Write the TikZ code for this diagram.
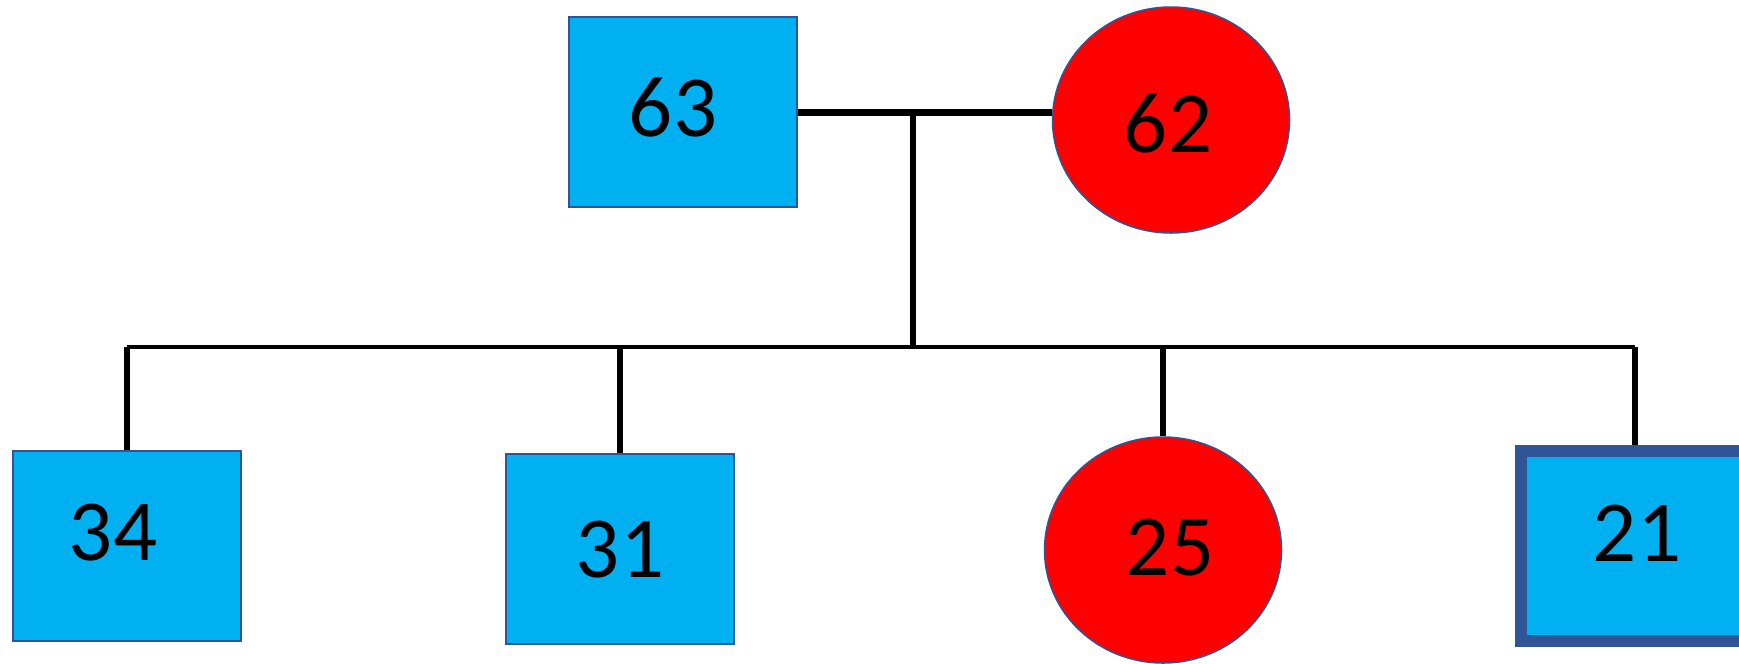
\documentclass[tikz,border=0pt]{standalone}
\usepackage{fontspec}
\setmainfont{Carlito}
\usetikzlibrary{shapes.geometric}
\definecolor{boyblue}{HTML}{00B0F0}
\definecolor{rimblue}{HTML}{2F5597}

\begin{document}
\begin{tikzpicture}[x=0.2mm, y=-0.2mm,
  male/.style={draw=rimblue, line width=0.3mm, fill=boyblue, rectangle, minimum width=45.6mm, minimum height=38mm, inner sep=0pt},
  female/.style={draw=rimblue, line width=0.3mm, fill=red, ellipse, minimum width=47.4mm, minimum height=45.2mm, inner sep=0pt},
  index/.style={male, line width=2.4mm},
  age/.style={font=\fontsize{49.5}{59}\selectfont, inner sep=0pt}]
  \useasboundingbox (0,0) rectangle (1739,663);

  \node[male] (f63) at (683,112) {};
  \node[female] (m62) at (1171,120) {};
  \node[male] (c34) at (127,546) {};
  \node[male] (c31) at (620,549) {};
  \node[female] (d25) at (1163,550) {};
  \node[index] (c21) at (1635,546) {};

  \node[age] (l63) at (673,107) {63};
  \node[age] (l62) at (1168,123) {62};
  \node[age] (l34) at (113,533) {34};
  \node[age] (l31) at (620,550) {31};
  \node[age] (l25) at (1170,548) {25};
  \node[age] (l21) at (1637,533) {21};

  \coordinate (mid) at (913,112);
  \coordinate (sib) at (913,347);

  \draw[line width=1.4mm] (f63.east) -- (f63.east -| m62.west);
  \draw[line width=1.1mm] (mid) -- (sib);
  \draw[line width=0.8mm] (c34.north |- sib) -- (c21.north |- sib);
  \foreach \k in {c34,c31,d25,c21}
    \draw[line width=1.1mm] (\k.north |- sib) -- (\k.north);
\end{tikzpicture}
\end{document}
